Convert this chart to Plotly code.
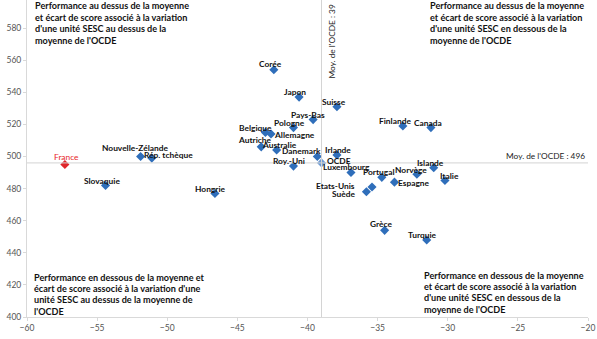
import plotly.graph_objects as go

# Country values: score gap per ESCS unit (x) and mean mathematics score (y)
countries = ["Corée", "Japon", "Suisse", "Pays-Bas", "Pologne", "Belgique", "Allemagne",
             "Autriche", "Australie", "Danemark", "Roy.-Uni", "Irlande", "Luxembourg",
             "Portugal", "Etats-Unis", "Suède", "Espagne", "Norvège", "Islande", "Italie",
             "Finlande", "Canada", "Grèce", "Turquie", "Slovaquie", "Nouvelle-Zélande",
             "Rép. tchèque", "Hongrie"]
gradient = [-42.4, -40.6, -37.9, -39.6, -41.0, -43.0, -42.6,
            -43.3, -42.2, -39.3, -41.0, -37.9, -36.9,
            -34.7, -35.4, -35.8, -33.8, -32.2, -31.0, -30.2,
            -33.2, -31.2, -34.5, -31.5, -54.4, -51.9,
            -51.1, -46.6]
score = [554, 537, 531, 523, 518, 515, 514,
         506, 504, 500, 494, 501, 490,
         487, 481, 478, 484, 489, 493, 485,
         519, 518, 454, 448, 482, 500,
         499, 477]

france_x, france_y = [-57.3], [495]
oecd_x, oecd_y = [-39.0], [496]
oecd_mean_gradient = -39
oecd_mean_score = 496

x_ticks = [-60, -55, -50, -45, -40, -35, -30, -25, -20]
y_ticks = [400, 420, 440, 460, 480, 500, 520, 540, 560, 580]

# Label placement: (pixel dx, pixel dy downward, horizontal anchor)
label_offsets = {
    "Corée": (-3, -6, "center"), "Japon": (-4, -5, "center"), "Suisse": (-3, -5, "center"),
    "Pays-Bas": (-5, -5, "center"), "Pologne": (-4, -5, "center"), "Belgique": (-10, -4, "center"),
    "Allemagne": (1.5, 1, "left"), "Autriche": (-6, -7, "center"), "Australie": (3, -5, "center"),
    "Danemark": (4.7, -5, "right"), "Roy.-Uni": (-4, -5, "center"), "Irlande": (1, -5, "center"),
    "Luxembourg": (-4, -6, "center"), "Portugal": (-3, -5, "center"),
    "Etats-Unis": (-16.5, -1, "right"), "Suède": (-10, 2, "right"), "Espagne": (2.4, 1, "left"),
    "Norvège": (-6, -4.5, "center"), "Islande": (-3, -5, "center"), "Italie": (5, -5, "center"),
    "Finlande": (-8, -5, "center"), "Canada": (-3, -5, "center"), "Grèce": (-4, -6, "center"),
    "Turquie": (-4, -5, "center"), "Slovaquie": (-4, -4.5, "center"),
    "Nouvelle-Zélande": (-5.5, -8.5, "center"), "Rép. tchèque": (-9.3, -3, "left"),
    "Hongrie": (-4.6, -4.6, "center"),
}

FONT = "Lato, DejaVu Sans Condensed, sans-serif"
label_font = dict(family=FONT, size=8.4, color="#111111", weight="bold")
blue = "#2F6EBA"

fig = go.Figure()

fig.add_trace(go.Scatter(
    x=gradient, y=score, mode="markers",
    marker=dict(symbol="diamond", size=7, color=blue), showlegend=False))
fig.add_trace(go.Scatter(
    x=oecd_x, y=oecd_y, mode="markers",
    marker=dict(symbol="diamond", size=7, color="#6E9BD4"), showlegend=False))
fig.add_trace(go.Scatter(
    x=france_x, y=france_y, mode="markers",
    marker=dict(symbol="diamond", size=7, color="#E0262B"), showlegend=False))

# Country labels next to their markers
for name, gx, sy in zip(countries, gradient, score):
    dx, dy, anchor = label_offsets[name]
    fig.add_annotation(x=gx, y=sy, xref="x", yref="y", text=name, showarrow=False,
                       xanchor=anchor, yanchor="middle", xshift=dx, yshift=-dy,
                       font=label_font, borderpad=0)
fig.add_annotation(x=oecd_x[0], y=oecd_y[0], xref="x", yref="y", text="OCDE", showarrow=False,
                   xanchor="left", yanchor="middle", xshift=4, yshift=2,
                   font=label_font, borderpad=0)
fig.add_annotation(x=france_x[0], y=france_y[0], xref="x", yref="y", text="France", showarrow=False,
                   xanchor="center", yanchor="middle", xshift=2, yshift=7.5,
                   font=dict(label_font, color="#E8262A", weight="normal"), borderpad=0)

# OECD average reference lines
fig.add_shape(type="line", xref="x", yref="paper", x0=oecd_mean_gradient, x1=oecd_mean_gradient,
              y0=0, y1=1, line=dict(color="#D4D4D4", width=1), layer="above")
fig.add_shape(type="line", xref="paper", yref="y", x0=0, x1=1, y0=oecd_mean_score,
              y1=oecd_mean_score, line=dict(color="#D4D4D4", width=1), layer="above")

ref_font = dict(family=FONT, size=8.3, color="#222222")
fig.add_annotation(x=oecd_mean_gradient, y=1, xref="x", yref="paper", xanchor="left", yanchor="top",
                   xshift=3, yshift=-3, text="Moy. de l'OCDE : 39", textangle=-90,
                   showarrow=False, font=ref_font)
fig.add_annotation(x=1, y=oecd_mean_score, xref="paper", yref="y", xanchor="right", yanchor="bottom",
                   xshift=-1, yshift=0, text="Moy. de l'OCDE : 496", showarrow=False,
                   font=ref_font)

# Quadrant captions, one annotation per line for Excel-like line spacing
quad_font = dict(family=FONT, size=9.1, color="#111111", weight="bold")
plot_h = 317
quadrants = [
    (0.0107, [6, 17.3, 28.6, 40],
     ["Performance au dessus de la moyenne", "et écart de score associé à la variation",
      "d'une unité SESC au dessus de la", "moyenne de l'OCDE"]),
    (0.715, [6, 17.3, 28.6, 40],
     ["Performance au dessus de la moyenne", "et écart de score associé à la variation",
      "d'une unité SESC en dessous de la", "moyenne de l'OCDE"]),
    (0.009, [277, 288.3, 299.6, 311],
     ["Performance en dessous de la moyenne et", "écart de score associé à la variation d'une",
      "unité SESC au dessus de la moyenne de", "l'OCDE"]),
    (0.704, [275, 286.3, 297.6, 309],
     ["Performance en dessous de la moyenne", "et écart de score associé à la variation",
      "d'une unité SESC en dessous de la", "moyenne de l'OCDE"]),
]
for qx, rows, lines in quadrants:
    for py, line in zip(rows, lines):
        fig.add_annotation(x=qx, y=1 - py / plot_h, xref="paper", yref="paper",
                           xanchor="left", yanchor="middle", align="left", text=line,
                           showarrow=False, font=quad_font)

axis_font = dict(family=FONT, size=8.5, color="#555555")
fig.update_xaxes(range=[-60, -20], tickvals=x_ticks, showgrid=False, zeroline=False,
                 showline=True, linecolor="#D9D9D9", ticks="outside", ticklen=3,
                 tickcolor="#D9D9D9", tickfont=axis_font)
fig.update_yaxes(range=[400, 597.5], tickvals=y_ticks, showgrid=False, zeroline=False,
                 showline=True, linecolor="#D9D9D9", ticks="outside", ticklen=3,
                 tickcolor="#D9D9D9", tickfont=axis_font)

fig.update_layout(width=597, height=339, margin=dict(l=27, r=9, t=0, b=22),
                  plot_bgcolor="white", paper_bgcolor="white")

fig.write_html("out.html")
